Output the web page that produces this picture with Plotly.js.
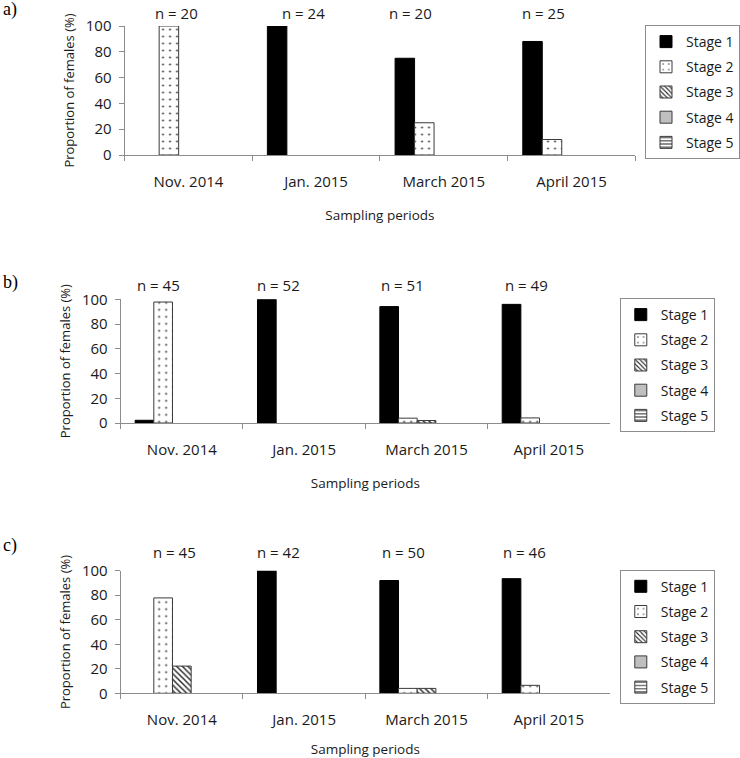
<!DOCTYPE html>
<html>
<head>
<meta charset="utf-8">
<script src="https://cdn.plot.ly/plotly-3.0.1.min.js"></script>
<style>html,body{margin:0;padding:0;background:#fff;}#chart{width:740px;height:758px;}</style>
</head>
<body>
<div id="chart"></div>
<script>
// ---- data ----
const periods = ['Nov. 2014', 'Jan. 2015', 'March 2015', 'April 2015'];
const stages = ['Stage 1', 'Stage 2', 'Stage 3', 'Stage 4', 'Stage 5'];

// panel a)
const aStage1 = [0, 100, 75, 88];
const aStage2 = [100, 0, 25, 12];
const aStage3 = [0, 0, 0, 0];
const aStage4 = [0, 0, 0, 0];
const aStage5 = [0, 0, 0, 0];
const aN = [20, 24, 20, 25];

// panel b)
const bStage1 = [2.2, 100, 94.1, 95.9];
const bStage2 = [97.8, 0, 3.9, 4.1];
const bStage3 = [0, 0, 2.0, 0];
const bStage4 = [0, 0, 0, 0];
const bStage5 = [0, 0, 0, 0];
const bN = [45, 52, 51, 49];

// panel c)
const cStage1 = [0, 100, 92, 93.5];
const cStage2 = [77.8, 0, 4, 6.5];
const cStage3 = [22.2, 0, 4, 0];
const cStage4 = [0, 0, 0, 0];
const cStage5 = [0, 0, 0, 0];
const cN = [45, 42, 50, 46];

const panelLabels = ['a)', 'b)', 'c)'];
const yTitle = 'Proportion of females (%)';
const xTitle = 'Sampling periods';

// ---- styles ----
const FONT = 'Open Sans, sans-serif';
const border = '#3a3a3a';
const stageStyle = [
  {color: '#000000', line: {color: '#000000', width: 1}},
  {color: '#ffffff', line: {color: border, width: 1}, pattern: {shape: '.', fgcolor: '#333', bgcolor: '#ffffff', size: 7, solidity: 0.06}},
  {color: '#ffffff', line: {color: border, width: 1}, pattern: {shape: '\\', fgcolor: '#222', bgcolor: '#ffffff', size: 4, solidity: 0.35}},
  {color: '#bfbfbf', line: {color: border, width: 1}},
  {color: '#ffffff', line: {color: border, width: 1}, pattern: {shape: '-', fgcolor: '#222', bgcolor: '#ffffff', size: 4, solidity: 0.3}}
];

const panels = [
  {series: [aStage1, aStage2, aStage3, aStage4, aStage5], n: aN, nOff: [-0.095, -0.10, -0.26, -0.22], nShift: 1},
  {series: [bStage1, bStage2, bStage3, bStage4, bStage5], n: bN, nOff: [-0.19, -0.21, -0.20, -0.18], nShift: 2},
  {series: [cStage1, cStage2, cStage3, cStage4, cStage5], n: cN, nOff: [-0.06, -0.21, -0.19, -0.20], nShift: 7}
];

const H = 758, W = 740;
// pixel geometry of each panel: [xLeft, xRight, yZero, yHundred]
const geom = [
  [128, 653, 155, 26],
  [124, 627, 423, 299.3],
  [124, 627, 693.3, 570.7]
];
const legendBox = [[663, 25], [637, 298], [637, 569.7]];
const labelY = [10, 282, 545];

const traces = [];
const annotations = [];
const layout = {
  width: W, height: H,
  margin: {l: 0, r: 0, t: 0, b: 0},
  paper_bgcolor: '#ffffff', plot_bgcolor: '#ffffff',
  barmode: 'group', bargap: 0.237, bargroupgap: 0,
  font: {family: FONT, size: 15, color: '#1a1a1a'},
  showlegend: true
};

panels.forEach((p, i) => {
  const sfx = i === 0 ? '' : String(i + 1);
  const legName = 'legend' + sfx;
  p.series.forEach((vals, s) => {
    traces.push({
      type: 'bar', x: periods, y: vals.map(v => (v === 0 ? null : v)), name: stages[s],
      xaxis: 'x' + sfx, yaxis: 'y' + sfx,
      legend: legName, legendgroup: 'g' + i + '_' + s,
      marker: stageStyle[s], hoverinfo: 'skip'
    });
  });
  const g = geom[i];
  layout['xaxis' + sfx] = {
    domain: [g[0] / W, g[1] / W], anchor: 'y' + sfx,
    type: 'category', showline: true, linecolor: '#8c8c8c', linewidth: 1,
    ticks: 'outside', tickson: 'boundaries', ticklen: 5, tickcolor: '#8c8c8c',
    showgrid: false, zeroline: false, ticklabelstandoff: 13,
    tickfont: {family: FONT, size: 15, color: '#1a1a1a'},
    title: {text: xTitle, font: {family: FONT, size: 13.5, color: '#1a1a1a'}, standoff: 20}
  };
  layout['yaxis' + sfx] = {
    domain: [(H - g[2]) / H, (H - g[3]) / H], anchor: 'x' + sfx,
    range: [0, 100], tickvals: [0, 20, 40, 60, 80, 100],
    showline: true, linecolor: '#8c8c8c', linewidth: 1,
    ticks: 'outside', ticklen: 5, tickcolor: '#8c8c8c',
    showgrid: false, zeroline: false, ticklabelstandoff: 4,
    tickfont: {family: FONT, size: 15, color: '#1a1a1a'},
    title: {text: yTitle, font: {family: FONT, size: 13, color: '#1a1a1a'}, standoff: 8}
  };
  layout[legName] = {
    x: legendBox[i][0] / W, y: (H - legendBox[i][1]) / H, xanchor: 'left', yanchor: 'top',
    bordercolor: '#8c8c8c', borderwidth: 1, bgcolor: '#ffffff',
    font: {family: FONT, size: 14, color: '#1a1a1a'},
    traceorder: 'grouped', tracegroupgap: 4, itemwidth: 30
  };
  p.n.forEach((nv, k) => {
    annotations.push({
      xref: 'x' + sfx, yref: 'y' + sfx, x: k + p.nOff[k], y: 100,
      yanchor: 'bottom', yshift: p.nShift, showarrow: false,
      text: 'n = ' + nv, font: {family: FONT, size: 15, color: '#1a1a1a'}
    });
  });
  annotations.push({
    xref: 'paper', yref: 'paper', x: 1 / W, y: (H - labelY[i]) / H,
    xanchor: 'left', yanchor: 'middle', showarrow: false,
    text: panelLabels[i], font: {family: 'Liberation Serif, serif', size: 18, color: '#000'}
  });
});
layout.annotations = annotations;

Plotly.newPlot('chart', traces, layout, {displayModeBar: false, staticPlot: true});
</script>
</body>
</html>
